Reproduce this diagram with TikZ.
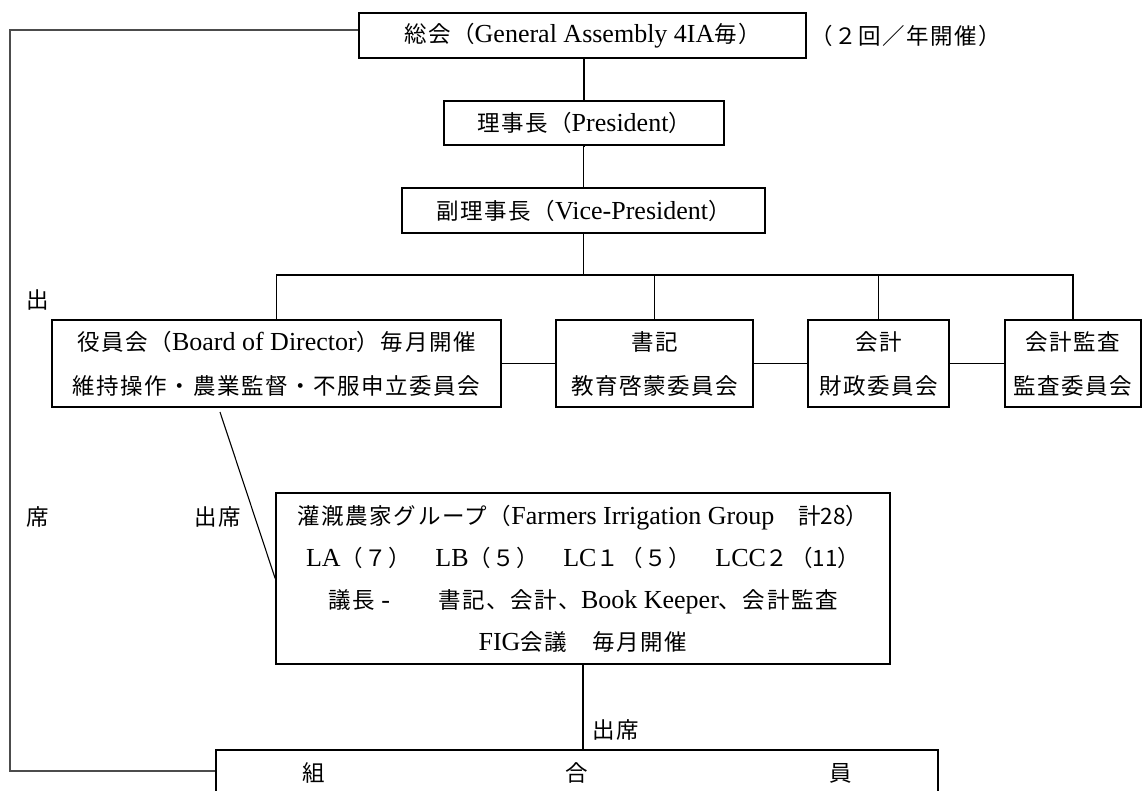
\documentclass[tikz,border=0pt]{standalone}
\usepackage{fontspec}
\setmainfont{Liberation Serif}
\newfontfamily\jp[LetterSpace=7]{Noto Sans CJK JP}
\newfontfamily\jpn{Noto Sans CJK JP}
\newcommand\lat[1]{{\rmfamily\fontsize{26}{44}\selectfont #1}}
\newcommand\nd[1]{{\jpn #1}}
\begin{document}
\begin{tikzpicture}[x=1pt,y=-1pt,
  box/.style={draw,line width=1.6pt,inner sep=0pt,align=center,font=\jp\fontsize{22.5}{44}\selectfont},
  conn/.style={line width=1.6pt},
  diag/.style={line width=1.1pt},
  loopline/.style={line width=1.2pt,draw=black!70},
  lbl/.style={font=\jp\fontsize{22.5}{24}\selectfont,inner sep=0pt}]
\useasboundingbox (0,0) rectangle (1142,791);
\clip (0,0) rectangle (1142,791);
% boxes
\node[box,minimum width=447pt,minimum height=45pt] (ga) at (582.5,35.5) {総会（\lat{General Assembly 4IA}毎）};
\node[box,minimum width=280pt,minimum height=44pt] (pres) at (584,123) {理事長（\lat{President}）};
\node[box,minimum width=363pt,minimum height=45pt] (vp) at (583.5,210.5) {副理事長（\lat{Vice-President}）};
\node[box,minimum width=449pt,minimum height=87pt] (bod) at (276.5,363.5) {役員会（\lat{Board of Director}）毎月開催\\維持操作・農業監督・不服申立委員会};
\node[box,minimum width=197pt,minimum height=87pt] (sec) at (654.5,363.5) {書記\\教育啓蒙委員会};
\node[box,minimum width=141pt,minimum height=87pt] (acc) at (878.5,363.5) {会計\\財政委員会};
\node[box,minimum width=136pt,minimum height=87pt] (aud) at (1073,363.5) {会計監査\\監査委員会};
\node[box,minimum width=614pt,minimum height=171pt,font=\jp\fontsize{22.5}{42}\selectfont] (fig) at (583,578.5) {灌漑農家グループ（\lat{Farmers Irrigation Group}　計\nd{28}）\\
\lat{LA}（７）　\lat{LB}（５）　\lat{LC}１（５）　\lat{LCC}２（\nd{11}）\\
議長\lat{ -}　　書記、会計、\lat{Book Keeper}、会計監査\\
\lat{FIG}会議　毎月開催};
\node[box,minimum width=722pt,minimum height=46pt] (mem) at (577,773) {\makebox[550pt]{組\hfill 合\hfill 員}};
% labels
\node[lbl,anchor=west] (freq) at (810,35.5) {（２回／年開催）};
\node[lbl] (out1) at (38,300) {出};
\node[lbl] (out2) at (38,517) {席};
\node[lbl] (att1) at (218,517) {出席};
\node[lbl] (att2) at (616,730) {出席};
% connectors
\coordinate (bus) at (584,275);
\draw[conn] (pres.north |- ga.south) -- (pres.north);
\draw[conn] (pres.south) -- (vp.north |- pres.south) -- (vp.north);
\draw[conn] (vp.north |- vp.south) -- (vp.north |- bus);
\draw[conn] (bod.north) -- (bod.north |- bus) -- (aud.north |- bus) -- (aud.north);
\draw[conn] (sec.north |- bus) -- (sec.north);
\draw[conn] (acc.north |- bus) -- (acc.north);
\draw[conn] (bod.east) -- (sec.west);
\draw[conn] (sec.east) -- (acc.west);
\draw[conn] (acc.east) -- (aud.west);
\draw[conn] (mem.north -| fig.south) -- (fig.south);
\coordinate (d1) at (220,412);
\draw[diag] (d1) -- (fig.west);
\coordinate (lt) at (10,30);
\coordinate (lb) at (10,771);
\draw[loopline] (ga.west |- lt) -- (lt) -- (lb) -- (lb -| mem.west);
\end{tikzpicture}
\end{document}
